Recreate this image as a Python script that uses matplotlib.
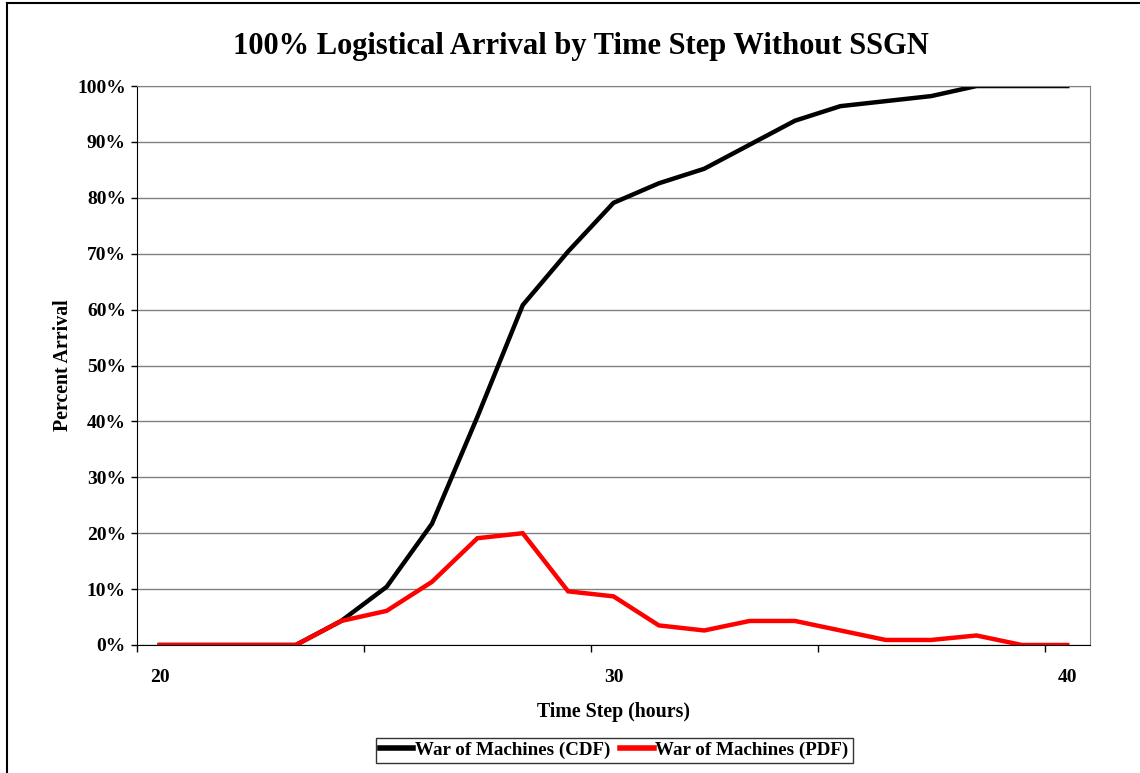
import numpy as np
import matplotlib.pyplot as plt
from matplotlib.lines import Line2D
from matplotlib.ticker import FixedLocator, PercentFormatter

# time steps (hours) and arrival percentages
hours = list(range(20, 41))
pdf = [0, 0, 0, 0, 4.3, 6.1, 11.3, 19.1, 20.0, 9.6, 8.7, 3.5, 2.6, 4.3, 4.3,
       2.6, 0.9, 0.9, 1.7, 0, 0]
cdf = [0, 0, 0, 0, 4.3, 10.4, 21.7, 40.8, 60.8, 70.4, 79.1, 82.6, 85.2,
       89.5, 93.8, 96.4, 97.3, 98.2, 100, 100, 100]

xlabels = [20, 30, 40]
cdf_name = "War of Machines (CDF)"
pdf_name = "War of Machines (PDF)"

plt.rcParams['font.family'] = ['Liberation Serif', 'DejaVu Serif']
plt.rcParams['font.weight'] = 'bold'

fig = plt.figure(figsize=(11.4, 7.73), dpi=100)
ax = fig.add_axes([0.1202, 0.1656, 0.8359, 0.7231])

ax.plot(hours, cdf, color='black', lw=3.2, label=cdf_name, solid_joinstyle='miter')
ax.plot(hours, pdf, color='#ff0000', lw=3.2, label=pdf_name, solid_joinstyle='miter')

ax.set_xlim(19.5, 40.5)
ax.set_ylim(0, 100)

ax.yaxis.set_major_locator(FixedLocator(np.arange(0, 101, 10)))
ax.yaxis.set_major_formatter(PercentFormatter(decimals=0))
ax.grid(axis='y', color='#808080', lw=1.0)
ax.set_axisbelow(True)

# tick marks between categories, labels every 10 steps
ax.set_xticks([19.5, 24.5, 29.5, 34.5, 39.5])
ax.set_xticklabels([])
ax.set_xticks(xlabels, minor=True)
ax.set_xticklabels([str(v) for v in xlabels], minor=True)
ax.tick_params(axis='x', which='minor', length=0, pad=17, labelsize=14)
ax.tick_params(axis='x', which='major', length=5, direction='out', width=1)
ax.tick_params(axis='y', length=4, direction='out', width=1, labelsize=14, pad=4)

for s in ['top', 'right']:
    ax.spines[s].set_color('#808080')
ax.spines['left'].set_color('black')
ax.spines['bottom'].set_color('black')

ax.set_xlabel('Time Step (hours)', fontsize=14.3, fontweight='bold')
ax.set_ylabel('Percent Arrival', fontsize=14.3, fontweight='bold')
ax.xaxis.set_label_coords(0.5, -0.102)
ax.yaxis.set_label_coords(-0.067, 0.5)

fig.text(0.5096, 0.940, '100% Logistical Arrival by Time Step Without SSGN',
         ha='center', va='center', fontsize=22, fontweight='bold')

handles = [Line2D([0], [0], color='black', lw=4), Line2D([0], [0], color='#ff0000', lw=4)]
leg = fig.legend(handles, [cdf_name, pdf_name], loc='center', ncol=2,
                 bbox_to_anchor=(0.539, 0.0297), frameon=True, fancybox=False,
                 edgecolor='black', fontsize=13.7, handlelength=1.75, handletextpad=0.1,
                 columnspacing=0.5, borderpad=0.2, borderaxespad=0)
leg.get_frame().set_linewidth(1.0)

# outer chart border (only left and top visible)
fig.add_artist(Line2D([0.0061, 0.0061], [0, 0.996], color='black', lw=1.5,
                      transform=fig.transFigure))
fig.add_artist(Line2D([0.0061, 1.0], [0.996, 0.996], color='black', lw=1.5,
                      transform=fig.transFigure))

fig.savefig('out.png', dpi=100)
